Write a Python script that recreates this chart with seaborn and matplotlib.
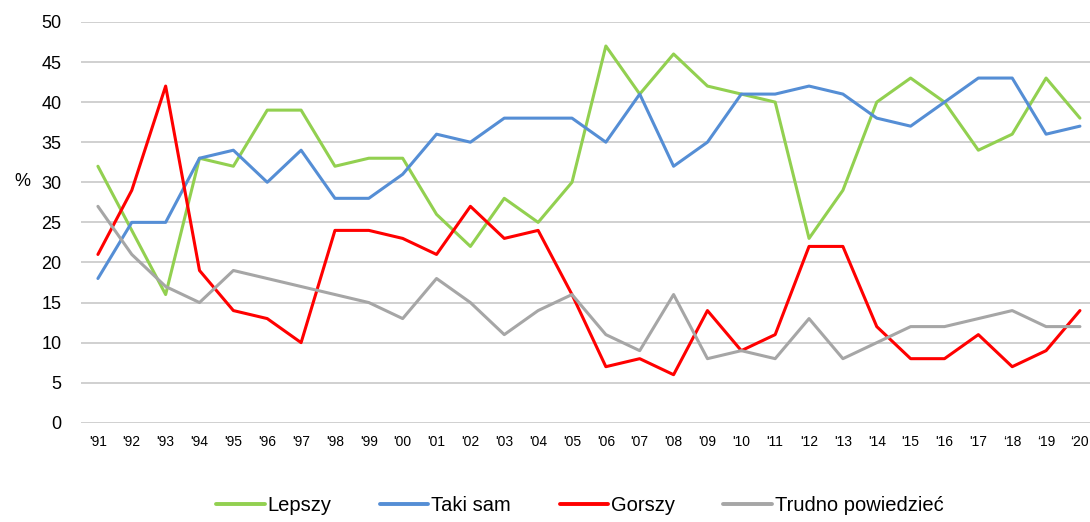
import numpy as np
import pandas as pd
import seaborn as sns
import matplotlib.pyplot as plt

years = ["'91", "'92", "'93", "'94", "'95", "'96", "'97", "'98", "'99", "'00",
         "'01", "'02", "'03", "'04", "'05", "'06", "'07", "'08", "'09", "'10",
         "'11", "'12", "'13", "'14", "'15", "'16", "'17", "\u201818", "\u201819", "\u201820"]
lepszy = [32, 24, 16, 33, 32, 39, 39, 32, 33, 33, 26, 22, 28, 25, 30, 47, 41, 46, 42, 41,
          40, 23, 29, 40, 43, 40, 34, 36, 43, 38]
taki_sam = [18, 25, 25, 33, 34, 30, 34, 28, 28, 31, 36, 35, 38, 38, 38, 35, 41, 32, 35, 41,
            41, 42, 41, 38, 37, 40, 43, 43, 36, 37]
gorszy = [21, 29, 42, 19, 14, 13, 10, 24, 24, 23, 21, 27, 23, 24, 16, 7, 8, 6, 14, 9,
          11, 22, 22, 12, 8, 8, 11, 7, 9, 14]
trudno = [27, 21, 17, 15, 19, 18, 17, 16, 15, 13, 18, 15, 11, 14, 16, 11, 9, 16, 8, 9,
          8, 13, 8, 10, 12, 12, 13, 14, 12, 12]

series = {"Lepszy": lepszy, "Taki sam": taki_sam, "Gorszy": gorszy, "Trudno powiedzieć": trudno}
colors = {"Lepszy": "#92d050", "Taki sam": "#558ed5", "Gorszy": "#ff0000", "Trudno powiedzieć": "#a6a6a6"}

df = pd.concat([pd.DataFrame({"pos": range(len(years)), "value": v, "series": k})
                for k, v in series.items()], ignore_index=True)

sns.set_theme(style="white")
plt.rcParams['font.family'] = ['Liberation Sans', 'DejaVu Sans']

fig = plt.figure(figsize=(10.9, 5.22), dpi=100)
ax = fig.add_axes([0.0743, 0.19, 0.932, 0.768])

sns.lineplot(data=df, x="pos", y="value", hue="series", palette=colors,
             linewidth=2.2, sort=False, ax=ax, legend=False)

ax.set_xlim(-0.5, len(years) - 0.5)
ax.set_ylim(0, 50)
ax.set_yticks(range(0, 51, 5))
ax.set_xticks(range(len(years)))
ax.set_xticklabels(years, fontsize=10)
ax.tick_params(axis='y', labelsize=13, length=0, pad=14, colors='black')
ax.tick_params(axis='x', length=0, pad=9, colors='black')
ax.grid(axis='y', color='#d0d0d0', linewidth=1.4)
ax.set_axisbelow(True)
for s in ax.spines.values():
    s.set_visible(False)
ax.set_xlabel("")
ax.set_ylabel("%", rotation=0, fontsize=13, labelpad=14, color='black')
ax.yaxis.set_label_coords(-0.058, 0.58)

handles = [plt.Line2D([], [], color=colors[k], linewidth=2.8) for k in series]
fig.legend(handles, list(series), loc='lower center', bbox_to_anchor=(0.532, -0.022),
           ncol=4, frameon=False, fontsize=14.5, handlelength=2.4, handletextpad=0.15,
           columnspacing=2.4, labelcolor='black')

fig.savefig("out.png", dpi=100)
